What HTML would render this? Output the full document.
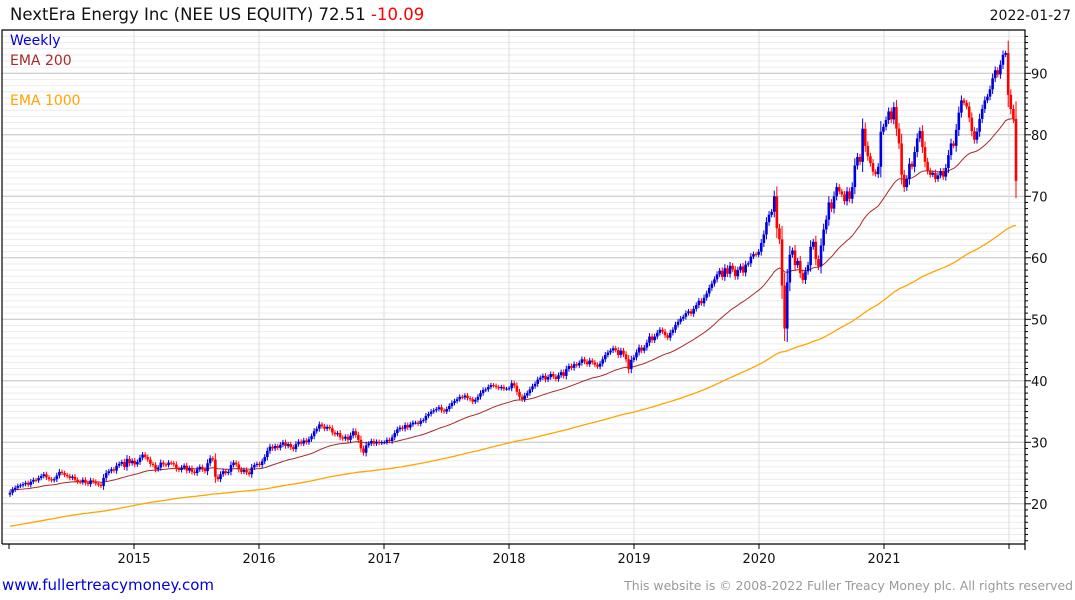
<!DOCTYPE html>
<html><head><meta charset="utf-8">
<style>
body{margin:0;background:#fff;width:1075px;height:600px;overflow:hidden;font-family:"DejaVu Sans","Liberation Sans",sans-serif}
svg{display:block}
svg text{font-family:"DejaVu Sans","Liberation Sans",sans-serif}
</style></head><body>
<svg id="chart" width="1075" height="600">
<text x="10" y="20" font-size="16.5" fill="#111">NextEra Energy Inc (NEE US EQUITY) 72.51 <tspan fill="#f00">-10.09</tspan></text>
<text x="1071" y="20" font-size="14" fill="#111" text-anchor="end">2022-01-27</text>
<g id="grid"></g>
<g id="axes"></g>
<g id="ema"></g>
<g id="bars"></g>
<text x="10" y="45" font-size="14" fill="#0000dd">Weekly</text>
<text x="10" y="65" font-size="14" fill="#a52a2a">EMA 200</text>
<text x="10" y="105" font-size="14" fill="#ffa500">EMA 1000</text>
<text x="2" y="590" font-size="15" fill="#0000dd">www.fullertreacymoney.com</text>
<text x="1073" y="590" font-size="12.4" fill="#999" text-anchor="end">This website is © 2008-2022 Fuller Treacy Money plc. All rights reserved</text>
</svg>
<script>
const yearLabels=["2015","2016","2017","2018","2019","2020","2021"];
const priceTicks=[20,30,40,50,60,70,80,90];
const closes2014=[21.8,22.3,22.6,22.9,23.0,23.2,23.4,23.1,23.6,23.9,23.8,24.2,24.5,24.8,24.3,24.0,23.8,24.0,24.6,25.2,25.0,24.7,24.5,24.2,24.4,23.9,23.6,23.5,23.9,23.4,23.2,23.8,23.6,23.3,23.1,22.9,24.2,25.0,25.3,25.6,25.4,26.2,26.5,26.8,26.0,27.3,26.6,27.0];
const closes2015=[26.4,26.8,27.5,28.0,27.6,27.2,26.5,26.3,25.6,25.9,26.7,26.4,26.3,26.7,26.6,26.4,25.7,25.5,25.9,26.2,25.4,25.8,25.2,25.0,25.6,26.0,25.6,25.3,26.6,27.4,27.2,24.4,24.0,24.8,25.3,25.0,25.2,26.3,26.7,26.4,25.6,25.2,25.5,25.1,24.8,25.9,26.3,26.5];
const closes2016=[26.3,26.9,27.6,28.6,29.3,29.0,29.4,29.1,29.6,30.0,29.4,29.7,29.2,28.9,29.7,30.1,29.8,30.3,30.0,30.5,31.0,31.8,32.2,32.9,32.6,32.2,32.5,32.3,31.6,31.3,31.5,30.8,30.6,30.9,30.4,31.1,31.8,31.2,30.4,29.0,28.3,29.5,29.8,30.2,29.8,30.1,29.9,30.0];
const closes2017=[30.0,30.4,30.2,30.8,31.5,32.1,32.4,32.2,32.8,32.4,32.9,33.2,33.2,33.0,33.5,33.6,34.3,34.6,35.0,35.2,35.4,35.7,35.2,35.0,35.4,35.9,36.4,36.7,37.0,37.4,37.3,37.6,37.2,37.0,36.6,36.9,37.4,38.0,38.5,38.6,39.0,39.3,39.2,39.0,38.8,39.0,38.7,38.7];
const closes2018=[38.8,39.6,39.2,38.2,37.4,37.0,37.6,38.0,38.6,39.1,39.5,40.2,40.5,40.8,40.2,40.6,41.1,40.7,40.3,40.9,41.4,40.8,41.9,42.4,42.1,42.7,42.5,42.9,43.5,43.1,42.7,43.3,43.0,42.6,42.3,42.8,43.5,44.2,44.6,44.9,45.3,45.0,44.2,44.9,44.3,43.5,41.9,43.4];
const closes2019=[43.8,44.6,45.4,44.9,45.4,46.2,47.2,46.6,47.2,47.8,48.3,48.0,47.4,47.0,47.8,48.3,49.1,49.6,50.1,50.4,51.0,51.3,50.9,51.7,52.3,53.0,52.6,53.5,54.2,55.1,55.8,56.5,57.3,57.9,56.9,58.3,57.4,58.7,58.1,57.0,58.0,58.6,57.6,58.9,59.1,60.2,60.6,60.5];
const closes2020=[61.0,62.4,63.8,65.8,67.0,67.5,70.0,64.8,63.0,55.5,48.5,56.0,60.5,61.2,58.8,59.5,57.5,56.4,57.8,58.8,61.8,62.6,59.8,58.6,62.0,64.6,66.2,69.0,68.0,70.0,71.5,70.8,70.3,69.2,70.8,69.6,71.5,75.0,76.4,75.6,81.0,78.2,76.5,75.4,74.0,73.6,74.8,80.5];
const closes2021=[81.3,82.4,83.8,82.5,84.5,81.0,78.6,73.5,71.5,72.8,75.3,74.8,77.2,79.4,80.6,78.0,75.6,74.2,73.5,73.8,72.8,73.4,74.1,73.2,74.6,76.7,78.6,78.2,80.8,83.6,85.6,85.2,84.6,82.8,80.6,79.2,80.5,82.6,84.2,85.6,86.2,87.4,89.2,90.5,89.8,91.4,93.0,93.3];
const closes2022=[86.5,84.2,82.6,72.5];
const closes=[].concat(closes2014,closes2015,closes2016,closes2017,closes2018,closes2019,closes2020,closes2021,closes2022);
const firstOpen=21.5, ema200Seed=22.3, ema1000Seed=16.3;

const NS="http://www.w3.org/2000/svg";
const L=2,R=1025,T=30,B=544;
const xYear=y=>9+(y-2014)*125;
const N=closes.length;
const xIdx=i=>10+i*(1016-10)/(N-1);
const yP=p=>73.3+(90-p)*6.15;
function mk(tag,attrs,parent){const e=document.createElementNS(NS,tag);for(const k in attrs)e.setAttribute(k,attrs[k]);parent.appendChild(e);return e;}
const grid=document.getElementById('grid'),axes=document.getElementById('axes'),emaG=document.getElementById('ema'),barsG=document.getElementById('bars');
for(let p=14;p<=96;p++){const y=yP(p);if(y<T||y>B)continue;
 const ln=mk('line',{x1:L,x2:R,y1:y,y2:y,stroke:p%10===0?'#c0c0c0':'#ececec','stroke-width':1},grid);
 
 
 const tk=mk('line',{x1:R,x2:R+(p%10===0?6:3),y1:y,y2:y,stroke:'#000'},axes);
 
 
}
priceTicks.forEach(p=>{const t=mk('text',{x:1031,y:yP(p)+5,'font-size':13,fill:'#111'},axes);t.textContent=p;
 
 });
for(let yr=2014;yr<=2022;yr++){const x=xYear(yr);
 if(yr>2014){const g=mk('line',{x1:x,x2:x,y1:T,y2:B,stroke:'#dcdcdc'},grid);
 
 }
 const tk=mk('line',{x1:x,x2:x,y1:B,y2:B+5,stroke:'#000'},axes);
 
 }
yearLabels.forEach((lab,i)=>{const t=mk('text',{x:xYear(2015+i),y:563,'font-size':13,fill:'#111','text-anchor':'middle'},axes);t.textContent=lab;
 
 });
const fr=mk('path',{d:`M${L},${B} L${L},${T} L${R},${T} L${R},${B+6} M${L},${B} L${R},${B}`,fill:'none',stroke:'#000','stroke-width':1.2},axes);


let e2=ema200Seed,e1=ema1000Seed;const a2=2/41,a1=2/181;let d2='',d1='';
closes.forEach((c,i)=>{e2+=a2*(c-e2);e1+=a1*(c-e1);d2+=(i?'L':'M')+xIdx(i).toFixed(1)+','+yP(e2).toFixed(1);d1+=(i?'L':'M')+xIdx(i).toFixed(1)+','+yP(e1).toFixed(1);});
const p1=mk('path',{d:d1,fill:'none',stroke:'#ffa500','stroke-width':1.3},emaG);


const p2=mk('path',{d:d2,fill:'none',stroke:'#a52a2a','stroke-width':1},emaG);


closes.forEach((c,i)=>{const o=i?closes[i-1]:firstOpen;const up=c>=o;const col=up?'#0000dd':'#ff0000';
 const ext=Math.abs(c-o)*0.25+0.3;const hi=Math.max(o,c)+ext,lo=Math.min(o,c)-ext;const x=xIdx(i);
 const g=mk('g',{},barsG);
 
 
 mk('line',{x1:x,x2:x,y1:yP(hi),y2:yP(lo),stroke:col,'stroke-width':1},g);
 const top=yP(Math.max(o,c)),h=Math.max(1,yP(Math.min(o,c))-top);
 mk('rect',{x:x-1.3,y:top,width:2.6,height:h,fill:col},g);
});
</script>
</body></html>
